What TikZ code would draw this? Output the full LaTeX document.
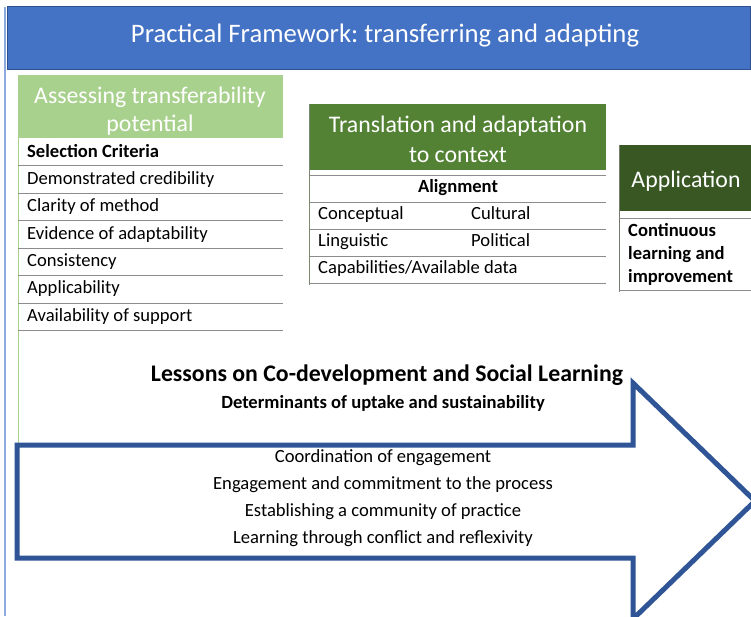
\documentclass[tikz,border=0pt]{standalone}
\usepackage{fontspec}
\setmainfont{Carlito}
\frenchspacing
\definecolor{titleblue}{HTML}{4472C4}
\definecolor{titleedge}{HTML}{2F528F}
\definecolor{arrowblue}{HTML}{2F5597}
\definecolor{sideblue}{HTML}{8FAADC}
\definecolor{lightgreen}{HTML}{A9D18E}
\definecolor{midgreen}{HTML}{548235}
\definecolor{darkgreen}{HTML}{385723}
\definecolor{rulegray}{HTML}{8C8C8C}
\begin{document}
\begin{tikzpicture}[x=1pt,y=-1pt,
  headtext/.style={text=white,font=\fontsize{23.8}{29}\selectfont,anchor=base,inner sep=0pt},
  rowtext/.style={anchor=base west,font=\fontsize{18.6}{22}\selectfont,inner sep=0pt},
  rowbold/.style={rowtext,font=\fontsize{18.6}{22}\selectfont\bfseries},
  rowrule/.style={draw=rulegray,line width=0.9pt},
  armtext/.style={anchor=base,font=\fontsize{18.6}{22}\selectfont,inner sep=0pt}]
\useasboundingbox (0,0) rectangle (751,616);
\fill[white] (0,0) rectangle (751,616);

% left frame edge and title bar
\draw[sideblue,line width=1.5pt] (5,7) -- (5,616);
\node[draw=titleedge,fill=titleblue,line width=0.8pt,minimum width=743pt,minimum height=63pt,
  anchor=north west,inner sep=0pt] (title) at (7,6) {};
\node[text=white,font=\fontsize{26.7}{30}\selectfont,anchor=base,inner sep=0pt] (titletext) at (385,42) {Practical Framework: transferring and adapting};

% column 1: assessing transferability
\node[fill=lightgreen,minimum width=265pt,minimum height=63pt,anchor=north west,inner sep=0pt] (h1) at (18,75) {};
\node[headtext] (h1t1) at (150,103.5) {Assessing transferability};
\node[headtext] (h1t2) at (150,131) {potential};
\draw[lightgreen,line width=1pt] (h1.south west) -- (18,445);
\foreach \y in {165,193,220,248,275,303,330} \draw[rowrule] (18,\y) -- (283,\y);
\node[rowbold] (c1a) at (27,157) {Selection Criteria};
\node[rowtext] (c1b) at (27,184.5) {Demonstrated credibility};
\node[rowtext] (c1c) at (27,211.5) {Clarity of method};
\node[rowtext] (c1d) at (27,239) {Evidence of adaptability};
\node[rowtext] (c1e) at (27,266) {Consistency};
\node[rowtext] (c1f) at (27,293.5) {Applicability};
\node[rowtext] (c1g) at (27,321) {Availability of support};

% column 2: translation and adaptation
\node[fill=midgreen,minimum width=296pt,minimum height=66pt,anchor=north west,inner sep=0pt] (h2) at (310,104) {};
\node[headtext] (h2t1) at (458,132) {Translation and adaptation};
\node[headtext] (h2t2) at (458,162) {to context};
\draw[rulegray!70!midgreen,line width=1pt] (309,104) -- (309,285);
\foreach \y in {175,202,229,256,283} \draw[rowrule] (310,\y) -- (606,\y);
\node[rowbold,anchor=base] (c2a) at (458,192) {Alignment};
\node[rowtext] (c2b) at (318,219.5) {Conceptual};
\node[rowtext] (c2c) at (471,219.5) {Cultural};
\node[rowtext] (c2d) at (318,246.5) {Linguistic};
\node[rowtext] (c2e) at (471,246.5) {Political};
\node[rowtext] (c2f) at (318,273.5) {Capabilities/Available data};

% column 3: application
\node[fill=darkgreen,minimum width=132pt,minimum height=66pt,anchor=north west,inner sep=0pt] (h3) at (619,145) {};
\node[headtext] (h3t) at (686,187) {Application};
\draw[rulegray!70!darkgreen,line width=1pt] (619,145) -- (619,292);
\foreach \y in {218,290} \draw[rowrule] (619,\y) -- (751,\y);
\node[rowbold] (c3a) at (628,236.5) {Continuous};
\node[rowbold] (c3b) at (628,259.3) {learning and};
\node[rowbold] (c3c) at (628,282) {improvement};

% lessons heading
\node[font=\fontsize{23.8}{28}\selectfont\bfseries,anchor=base,inner sep=0pt] (lessons) at (387,381) {Lessons on Co-development and Social Learning};
\node[font=\fontsize{18.6}{22}\selectfont\bfseries,anchor=base,inner sep=0pt] (determ) at (383,408.5) {Determinants of uptake and sustainability};

% block arrow
\draw[arrowblue,line width=5pt,fill=white,line join=miter]
  (17,445) -- (633,445) -- (633,383) -- (755,501) -- (633,619) -- (633,558) -- (17,558) -- cycle;
\node[armtext] (l1) at (383,462) {Coordination of engagement};
\node[armtext] (l2) at (383,489) {Engagement and commitment to the process};
\node[armtext] (l3) at (383,516) {Establishing a community of practice};
\node[armtext] (l4) at (383,543) {Learning through conflict and reflexivity};
\end{tikzpicture}
\end{document}
